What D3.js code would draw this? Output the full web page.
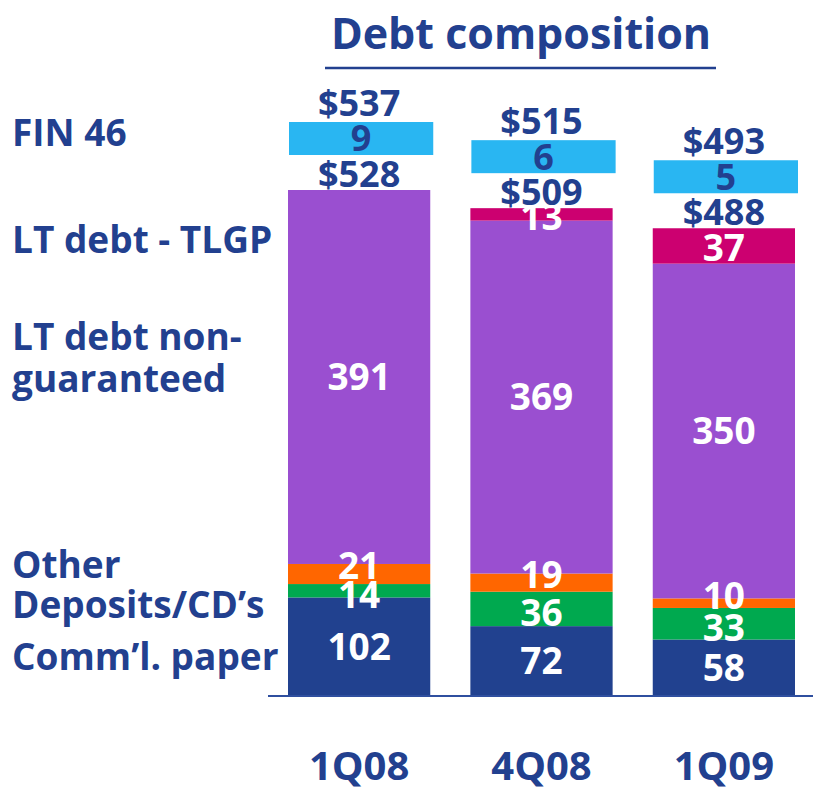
<!DOCTYPE html>
<html>
<head>
<meta charset="utf-8">
<script src="https://cdn.jsdelivr.net/npm/d3@7"></script>
<style>
    body { margin: 0; background: #fff; }
    svg text { font-family: "Open Sans", "Noto Sans", sans-serif; font-weight: 700; }
</style>
</head>
<body>
<div id="chart"></div>
<script>
// Debt composition ($B) by quarter
const categories = ['1Q08', '4Q08', '1Q09'];
const commPaper = [102, 72, 58];
const deposits = [14, 36, 33];
const other = [21, 19, 10];
const ltNonGuaranteed = [391, 369, 350];
const ltTlgp = [0, 13, 37];
const fin46 = [9, 6, 5];

// left hand labels, bottom to top
const seriesLabels = [
    ['Comm\u2019l. paper'],
    ['Deposits/CD\u2019s'],
    ['Other'],
    ['LT debt non-', 'guaranteed'],
    ['LT debt - TLGP'],
    ['FIN 46']
];

const navy = '#22408f';
const colors = ['#21418f', '#00a94f', '#ff6600', '#9a4fd0', '#cc0070'];
const finColor = '#29b6f2';

const width = 813, height = 788;
const svg = d3.select('#chart')
    .append('svg')
    .attr('width', width)
    .attr('height', height);

// Build stacked rows
const series = [commPaper, deposits, other, ltNonGuaranteed, ltTlgp];
const rows = categories.map((c, i) => {
    const r = { cat: c };
    series.forEach((s, k) => r['s' + k] = s[i]);
    return r;
});
const keys = series.map((s, k) => 's' + k);
const stacked = d3.stack().keys(keys)(rows);

// Scales
const x = d3.scaleBand()
    .domain(categories)
    .range([288, 795])
    .paddingInner(0.22);

const y = d3.scaleLinear()
    .domain([0, 528])
    .range([695, 190]);

// Title
svg.append('text')
    .attr('x', 521)
    .attr('y', 49)
    .attr('text-anchor', 'middle')
    .style('font-size', '43px')
    .style('fill', navy)
    .text('Debt composition');

svg.append('line')
    .attr('x1', 325).attr('x2', 716)
    .attr('y1', 68).attr('y2', 68)
    .style('stroke', navy)
    .style('stroke-width', 2.5);

// Bars
const layers = svg.selectAll('.layer')
    .data(stacked)
    .enter()
    .append('g')
    .attr('class', 'layer')
    .style('fill', (d, i) => colors[i]);

layers.selectAll('rect')
    .data(d => d.filter(p => p[1] - p[0] > 0))
    .enter()
    .append('rect')
    .attr('x', d => x(d.data.cat))
    .attr('y', d => y(d[1]))
    .attr('width', x.bandwidth())
    .attr('height', d => y(d[0]) - y(d[1]));

// Segment labels (orange ones sit a little high in the original, green a bit low)
const labelShift = [0, 4, -8, 0, 2];
stacked.forEach((layer, k) => {
    layer.forEach(p => {
        const v = p[1] - p[0];
        if (v <= 0) return;
        svg.append('text')
            .attr('x', x(p.data.cat) + x.bandwidth() / 2)
            .attr('y', (y(p[0]) + y(p[1])) / 2 + labelShift[k])
            .attr('dy', '0.36em')
            .attr('text-anchor', 'middle')
            .style('font-size', '37px')
            .style('fill', '#fff')
            .text(v);
    });
});

// Totals and FIN 46 boxes
categories.forEach((c, i) => {
    const total = d3.sum(series, s => s[i]);
    const top = y(total);
    const cx = x(c) + x.bandwidth() / 2;

    svg.append('text')
        .attr('x', cx)
        .attr('y', top - 3)
        .attr('text-anchor', 'middle')
        .style('font-size', '36px')
        .style('fill', navy)
        .text('$' + total);

    const boxBottom = top - 35;
    const boxTop = boxBottom - 33;
    svg.append('rect')
        .attr('x', x(c) + 1)
        .attr('y', boxTop)
        .attr('width', x.bandwidth() + 2)
        .attr('height', 33)
        .style('fill', finColor);

    svg.append('text')
        .attr('x', cx + 2)
        .attr('y', boxTop + 16.5)
        .attr('dy', '0.36em')
        .attr('text-anchor', 'middle')
        .style('font-size', '36px')
        .style('fill', navy)
        .text(fin46[i]);

    svg.append('text')
        .attr('x', cx)
        .attr('y', boxTop - 6)
        .attr('text-anchor', 'middle')
        .style('font-size', '36px')
        .style('fill', navy)
        .text('$' + (total + fin46[i]));
});

// Baseline
svg.append('line')
    .attr('x1', 268).attr('x2', width)
    .attr('y1', 696).attr('y2', 696)
    .style('stroke', '#2f4f9f')
    .style('stroke-width', 2);

// Category axis
svg.append('g')
    .attr('transform', 'translate(0,780)')
    .call(d3.axisBottom(x).tickSize(0).tickPadding(0))
    .call(g => g.select('.domain').remove())
    .selectAll('text')
    .attr('dy', 0)
    .style('font-size', '40px')
    .style('font-family', '"Open Sans", sans-serif')
    .style('font-weight', 700)
    .style('fill', navy);

// Left labels
const labelY = [670, 618, 578, 350, 253, 146];
seriesLabels.forEach((lines, i) => {
    lines.forEach((t, j) => {
        svg.append('text')
            .attr('x', 12)
            .attr('y', labelY[i] + j * 42)
            .style('font-size', '37px')
            .style('fill', navy)
            .text(t);
    });
});
</script>
</body>
</html>
